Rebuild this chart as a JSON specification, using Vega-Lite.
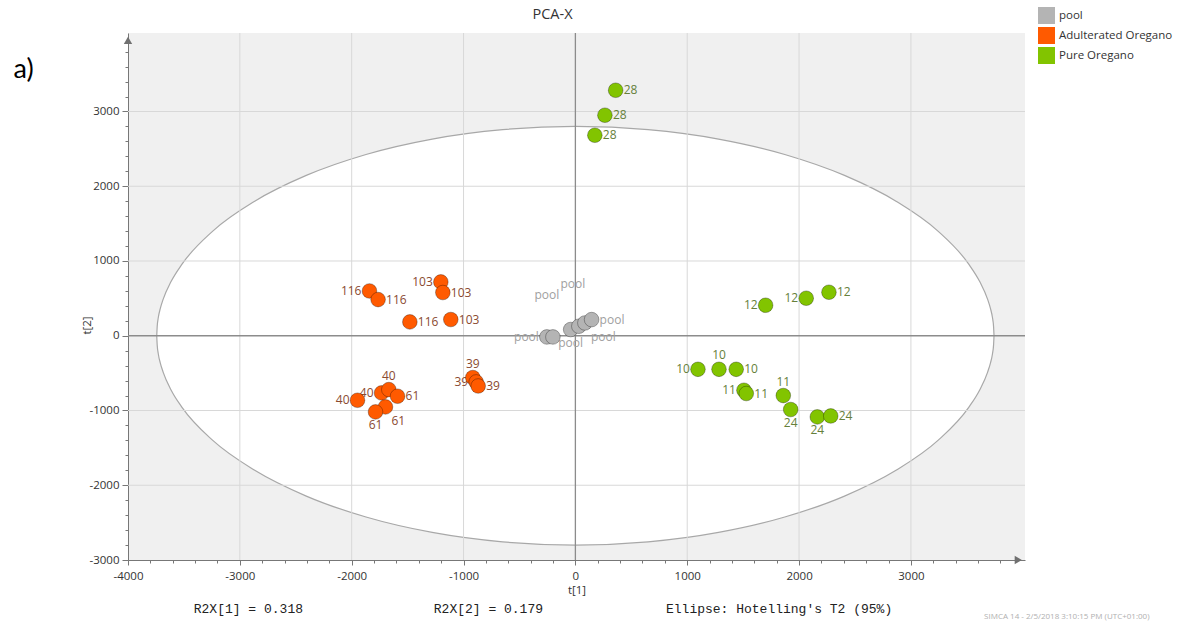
{
  "$schema": "https://vega.github.io/schema/vega-lite/v6.json",
  "width": 897,
  "height": 527,
  "autosize": {"type": "none"},
  "padding": {"left": 128, "top": 33, "right": 170, "bottom": 61},
  "background": "white",
  "config": {
    "view": {"fill": "#f0f0f0", "stroke": null},
    "font": "Open Sans",
    "axis": {"labelOverlap": false, "labelFlush": false, "labelBound": false}
  },
  "title": {"text": "PCA-X", "fontSize": 14.5, "font": "Open Sans", "fontWeight": "normal", "color": "#333333", "anchor": "middle", "dx": -24, "offset": -15},
  "datasets": {
    "ellipse": [
      {"x": -3743, "y": 0, "y2": 0},
      {"x": -3739, "y": 122, "y2": -122},
      {"x": -3729, "y": 244, "y2": -244},
      {"x": -3711, "y": 365, "y2": -365},
      {"x": -3686, "y": 486, "y2": -486},
      {"x": -3615, "y": 725, "y2": -725},
      {"x": -3517, "y": 958, "y2": -958},
      {"x": -3242, "y": 1400, "y2": -1400},
      {"x": -2867, "y": 1800, "y2": -1800},
      {"x": -2406, "y": 2145, "y2": -2145},
      {"x": -1872, "y": 2425, "y2": -2425},
      {"x": -1280, "y": 2631, "y2": -2631},
      {"x": -650, "y": 2757, "y2": -2757},
      {"x": 0, "y": 2800, "y2": -2800},
      {"x": 650, "y": 2757, "y2": -2757},
      {"x": 1280, "y": 2631, "y2": -2631},
      {"x": 1872, "y": 2425, "y2": -2425},
      {"x": 2406, "y": 2145, "y2": -2145},
      {"x": 2867, "y": 1800, "y2": -1800},
      {"x": 3242, "y": 1400, "y2": -1400},
      {"x": 3517, "y": 958, "y2": -958},
      {"x": 3615, "y": 725, "y2": -725},
      {"x": 3686, "y": 486, "y2": -486},
      {"x": 3711, "y": 365, "y2": -365},
      {"x": 3729, "y": 244, "y2": -244},
      {"x": 3739, "y": 122, "y2": -122},
      {"x": 3743, "y": 0, "y2": 0}
    ],
    "gridx": [{"x": -3000}, {"x": -2000}, {"x": -1000}, {"x": 1000}, {"x": 2000}, {"x": 3000}],
    "gridy": [{"y": -2000}, {"y": -1000}, {"y": 1000}, {"y": 2000}, {"y": 3000}],
    "zerox": [{"x": 0}],
    "zeroy": [{"y": 0}],
    "points": [
      {"id": "a1", "grp": "Adulterated Oregano", "lab": "116", "x": -1841, "y": 599},
      {"id": "a2", "grp": "Adulterated Oregano", "lab": "116", "x": -1764, "y": 484},
      {"id": "a3", "grp": "Adulterated Oregano", "lab": "116", "x": -1480, "y": 185},
      {"id": "a4", "grp": "Adulterated Oregano", "lab": "103", "x": -1203, "y": 720},
      {"id": "a5", "grp": "Adulterated Oregano", "lab": "103", "x": -1185, "y": 578},
      {"id": "a6", "grp": "Adulterated Oregano", "lab": "103", "x": -1114, "y": 217},
      {"id": "a7", "grp": "Adulterated Oregano", "lab": "39", "x": -917, "y": -559},
      {"id": "a8", "grp": "Adulterated Oregano", "lab": "39", "x": -887, "y": -618},
      {"id": "a9", "grp": "Adulterated Oregano", "lab": "39", "x": -869, "y": -672},
      {"id": "a10", "grp": "Adulterated Oregano", "lab": "40", "x": -1948, "y": -863},
      {"id": "a11", "grp": "Adulterated Oregano", "lab": "40", "x": -1733, "y": -765},
      {"id": "a12", "grp": "Adulterated Oregano", "lab": "40", "x": -1668, "y": -720},
      {"id": "a13", "grp": "Adulterated Oregano", "lab": "61", "x": -1590, "y": -809},
      {"id": "a14", "grp": "Adulterated Oregano", "lab": "61", "x": -1698, "y": -952},
      {"id": "a15", "grp": "Adulterated Oregano", "lab": "61", "x": -1787, "y": -1019},
      {"id": "p1", "grp": "pool", "lab": "pool", "x": -255, "y": -16},
      {"id": "p2", "grp": "pool", "lab": "pool", "x": -201, "y": -16},
      {"id": "p3", "grp": "pool", "lab": "pool", "x": -42, "y": 83},
      {"id": "p4", "grp": "pool", "lab": "pool", "x": 31, "y": 127},
      {"id": "p5", "grp": "pool", "lab": "pool", "x": 85, "y": 171},
      {"id": "p6", "grp": "pool", "lab": "pool", "x": 145, "y": 216},
      {"id": "g1", "grp": "Pure Oregano", "lab": "12", "x": 1701, "y": 408},
      {"id": "g2", "grp": "Pure Oregano", "lab": "12", "x": 2064, "y": 502},
      {"id": "g3", "grp": "Pure Oregano", "lab": "12", "x": 2267, "y": 582},
      {"id": "g4", "grp": "Pure Oregano", "lab": "10", "x": 1096, "y": -449},
      {"id": "g5", "grp": "Pure Oregano", "lab": "10", "x": 1284, "y": -449},
      {"id": "g6", "grp": "Pure Oregano", "lab": "10", "x": 1438, "y": -449},
      {"id": "g7", "grp": "Pure Oregano", "lab": "11", "x": 1507, "y": -729},
      {"id": "g8", "grp": "Pure Oregano", "lab": "11", "x": 1528, "y": -773},
      {"id": "g9", "grp": "Pure Oregano", "lab": "11", "x": 1859, "y": -800},
      {"id": "g10", "grp": "Pure Oregano", "lab": "24", "x": 1925, "y": -987},
      {"id": "g11", "grp": "Pure Oregano", "lab": "24", "x": 2163, "y": -1086},
      {"id": "g12", "grp": "Pure Oregano", "lab": "24", "x": 2283, "y": -1073},
      {"id": "g13", "grp": "Pure Oregano", "lab": "28", "x": 360, "y": 3284},
      {"id": "g14", "grp": "Pure Oregano", "lab": "28", "x": 264, "y": 2950},
      {"id": "g15", "grp": "Pure Oregano", "lab": "28", "x": 174, "y": 2682}
    ]
  },
  "layer": [
    {
      "data": {"name": "ellipse"},
      "mark": {"type": "area", "fill": "white", "stroke": "#a8a8a8", "strokeWidth": 1.2, "interpolate": "monotone"},
      "encoding": {
        "x": {
          "field": "x", "type": "quantitative",
          "scale": {"domain": [-4000, 4020], "nice": false, "zero": false},
          "axis": {
            "title": "t[1]",
            "values": [-4000,-3800,-3600,-3400,-3200,-3000,-2800,-2600,-2400,-2200,-2000,-1800,-1600,-1400,-1200,-1000,-800,-600,-400,-200,0,200,400,600,800,1000,1200,1400,1600,1800,2000,2200,2400,2600,2800,3000,3200,3400,3600,3800],
            "tickCount": 200,
            "labelExpr": "datum.value % 1000 === 0 ? '' + datum.value : ''",
            "tickSize": {"condition": {"test": "datum.value % 1000 === 0", "value": 5}, "value": 3},
            "grid": false, "labelOverlap": false,
            "domainColor": "#777777", "tickColor": "#777777",
            "labelColor": "#333333", "labelFontSize": 11.5, "labelPadding": 5,
            "titleFontSize": 11.5, "titleFontWeight": "normal", "titleColor": "#333333", "titlePadding": 3
          }
        },
        "y": {
          "field": "y", "type": "quantitative",
          "scale": {"domain": [-3000, 4050], "nice": false, "zero": false},
          "axis": {
            "title": "t[2]",
            "values": [-3000,-2800,-2600,-2400,-2200,-2000,-1800,-1600,-1400,-1200,-1000,-800,-600,-400,-200,0,200,400,600,800,1000,1200,1400,1600,1800,2000,2200,2400,2600,2800,3000,3200,3400,3600,3800],
            "tickCount": 200,
            "labelExpr": "datum.value % 1000 === 0 ? '' + datum.value : ''",
            "tickSize": {"condition": {"test": "datum.value % 1000 === 0", "value": 6}, "value": 3},
            "grid": false, "labelOverlap": false,
            "domainColor": "#777777", "tickColor": "#777777",
            "labelColor": "#333333", "labelFontSize": 11.5, "labelPadding": 3,
            "titleFontSize": 11.5, "titleFontWeight": "normal", "titleColor": "#333333", "titlePadding": -4, "titleY": 292
          }
        },
        "y2": {"field": "y2"}
      }
    },
    {
      "data": {"name": "gridx"},
      "mark": {"type": "rule", "color": "#d8d8d8", "strokeWidth": 1},
      "encoding": {"x": {"field": "x", "type": "quantitative"}}
    },
    {
      "data": {"name": "gridy"},
      "mark": {"type": "rule", "color": "#d8d8d8", "strokeWidth": 1},
      "encoding": {"y": {"field": "y", "type": "quantitative"}}
    },
    {
      "data": {"name": "zerox"},
      "mark": {"type": "rule", "color": "#8c8c8c", "strokeWidth": 1.3},
      "encoding": {"x": {"field": "x", "type": "quantitative"}}
    },
    {
      "data": {"name": "zeroy"},
      "mark": {"type": "rule", "color": "#8c8c8c", "strokeWidth": 1.3},
      "encoding": {"y": {"field": "y", "type": "quantitative"}}
    },
    {
      "data": {"name": "points"},
      "transform": [{"filter": {"field": "id", "oneOf": ["a2","a3","a5","a6","a9","a13","p6","g3","g6","g8","g12","g13","g14","g15"]}}],
      "mark": {"type": "text", "align": "left", "baseline": "middle", "dx": 8, "fontSize": 12, "font": "Open Sans"},
      "encoding": {
        "x": {"field": "x", "type": "quantitative"},
        "y": {"field": "y", "type": "quantitative"},
        "text": {"field": "lab"},
        "fill": {"condition": [{"test": "datum.grp === 'pool'", "value": "#a0a0a0"}, {"test": "datum.grp === 'Adulterated Oregano'", "value": "#8a4a30"}], "value": "#66803a"}
      }
    },
    {
      "data": {"name": "points"},
      "transform": [{"filter": {"field": "id", "oneOf": ["a1","a4","a8","a10","a11","p1","g1","g2","g4","g7"]}}],
      "mark": {"type": "text", "align": "right", "baseline": "middle", "dx": -8, "fontSize": 12, "font": "Open Sans"},
      "encoding": {
        "x": {"field": "x", "type": "quantitative"},
        "y": {"field": "y", "type": "quantitative"},
        "text": {"field": "lab"},
        "fill": {"condition": [{"test": "datum.grp === 'pool'", "value": "#a0a0a0"}, {"test": "datum.grp === 'Adulterated Oregano'", "value": "#8a4a30"}], "value": "#66803a"}
      }
    },
    {
      "data": {"name": "points"},
      "transform": [{"filter": {"field": "id", "oneOf": ["a7","a12","g5","g9"]}}],
      "mark": {"type": "text", "align": "center", "baseline": "bottom", "dy": -7, "fontSize": 12, "font": "Open Sans"},
      "encoding": {
        "x": {"field": "x", "type": "quantitative"},
        "y": {"field": "y", "type": "quantitative"},
        "text": {"field": "lab"},
        "fill": {"condition": [{"test": "datum.grp === 'pool'", "value": "#a0a0a0"}, {"test": "datum.grp === 'Adulterated Oregano'", "value": "#8a4a30"}], "value": "#66803a"}
      }
    },
    {
      "data": {"name": "points"},
      "transform": [{"filter": {"field": "id", "oneOf": ["a15","p3","g10","g11"]}}],
      "mark": {"type": "text", "align": "center", "baseline": "top", "dy": 8, "fontSize": 12, "font": "Open Sans"},
      "encoding": {
        "x": {"field": "x", "type": "quantitative"},
        "y": {"field": "y", "type": "quantitative"},
        "text": {"field": "lab"},
        "fill": {"condition": [{"test": "datum.grp === 'pool'", "value": "#a0a0a0"}, {"test": "datum.grp === 'Adulterated Oregano'", "value": "#8a4a30"}], "value": "#66803a"}
      }
    },
    {
      "data": {"name": "points"},
      "transform": [{"filter": {"field": "id", "oneOf": ["a14","p5"]}}],
      "mark": {"type": "text", "align": "left", "baseline": "top", "dx": 6, "dy": 9, "fontSize": 12, "font": "Open Sans"},
      "encoding": {
        "x": {"field": "x", "type": "quantitative"},
        "y": {"field": "y", "type": "quantitative"},
        "text": {"field": "lab"},
        "fill": {"condition": [{"test": "datum.grp === 'pool'", "value": "#a0a0a0"}, {"test": "datum.grp === 'Adulterated Oregano'", "value": "#8a4a30"}], "value": "#66803a"}
      }
    },
    {
      "data": {"name": "points"},
      "transform": [{"filter": {"field": "id", "oneOf": ["p2","p4"]}}],
      "mark": {"type": "text", "align": "center", "baseline": "middle", "dx": -6, "dy": -42, "fontSize": 12, "font": "Open Sans"},
      "encoding": {
        "x": {"field": "x", "type": "quantitative"},
        "y": {"field": "y", "type": "quantitative"},
        "text": {"field": "lab"},
        "fill": {"condition": [{"test": "datum.grp === 'pool'", "value": "#a0a0a0"}, {"test": "datum.grp === 'Adulterated Oregano'", "value": "#8a4a30"}], "value": "#66803a"}
      }
    },
    {
      "data": {"name": "points"},
      "mark": {"type": "point", "filled": true, "size": 215, "opacity": 1, "stroke": "#000000", "strokeOpacity": 0.3, "strokeWidth": 1},
      "encoding": {
        "x": {"field": "x", "type": "quantitative"},
        "y": {"field": "y", "type": "quantitative"},
        "color": {
          "field": "grp", "type": "nominal",
          "scale": {"domain": ["pool", "Adulterated Oregano", "Pure Oregano"], "range": ["#b4b4b4", "#ff5a00", "#82c400"]},
          "legend": {
            "title": null, "orient": "none", "legendX": 910, "legendY": -26,
            "symbolType": "square", "symbolSize": 289, "symbolStrokeWidth": 0, "symbolOpacity": 1,
            "labelFontSize": 11.5, "labelColor": "#333333", "labelFont": "Open Sans",
            "rowPadding": 3, "labelOffset": 4, "padding": 0
          }
        }
      }
    },
    {
      "data": {"values": [{"x": -4000, "y": 3950}]},
      "mark": {"type": "point", "shape": "triangle-up", "filled": true, "size": 70, "color": "#707070", "opacity": 1},
      "encoding": {"x": {"field": "x", "type": "quantitative"}, "y": {"field": "y", "type": "quantitative"}}
    },
    {
      "data": {"values": [{"x": 3960, "y": -3000}]},
      "mark": {"type": "point", "shape": "triangle-right", "filled": true, "size": 70, "color": "#707070", "opacity": 1},
      "encoding": {"x": {"field": "x", "type": "quantitative"}, "y": {"field": "y", "type": "quantitative"}}
    },
    {
      "data": {"values": [
        {"x": -3412, "y": -3659, "t": "R2X[1] = 0.318"},
        {"x": -1266, "y": -3659, "t": "R2X[2] = 0.179"},
        {"x": 810, "y": -3659, "t": "Ellipse: Hotelling's T2 (95%)"}
      ]},
      "mark": {"type": "text", "align": "left", "baseline": "middle", "font": "Liberation Mono", "fontSize": 13, "color": "#222222"},
      "encoding": {"x": {"field": "x", "type": "quantitative"}, "y": {"field": "y", "type": "quantitative"}, "text": {"field": "t"}}
    },
    {
      "data": {"values": [{"x": 3654, "y": -3766, "t": "SIMCA 14 - 2/5/2018 3:10:15 PM (UTC+01:00)"}]},
      "mark": {"type": "text", "align": "left", "baseline": "middle", "font": "Open Sans", "fontSize": 8, "color": "#b0b0b0"},
      "encoding": {"x": {"field": "x", "type": "quantitative"}, "y": {"field": "y", "type": "quantitative"}, "text": {"field": "t"}}
    },
    {
      "data": {"values": [{"x": -4933, "y": 3552, "t": "a)"}]},
      "mark": {"type": "text", "align": "center", "baseline": "middle", "font": "Lato", "fontSize": 27, "color": "#000000"},
      "encoding": {"x": {"field": "x", "type": "quantitative"}, "y": {"field": "y", "type": "quantitative"}, "text": {"field": "t"}}
    }
  ]
}
